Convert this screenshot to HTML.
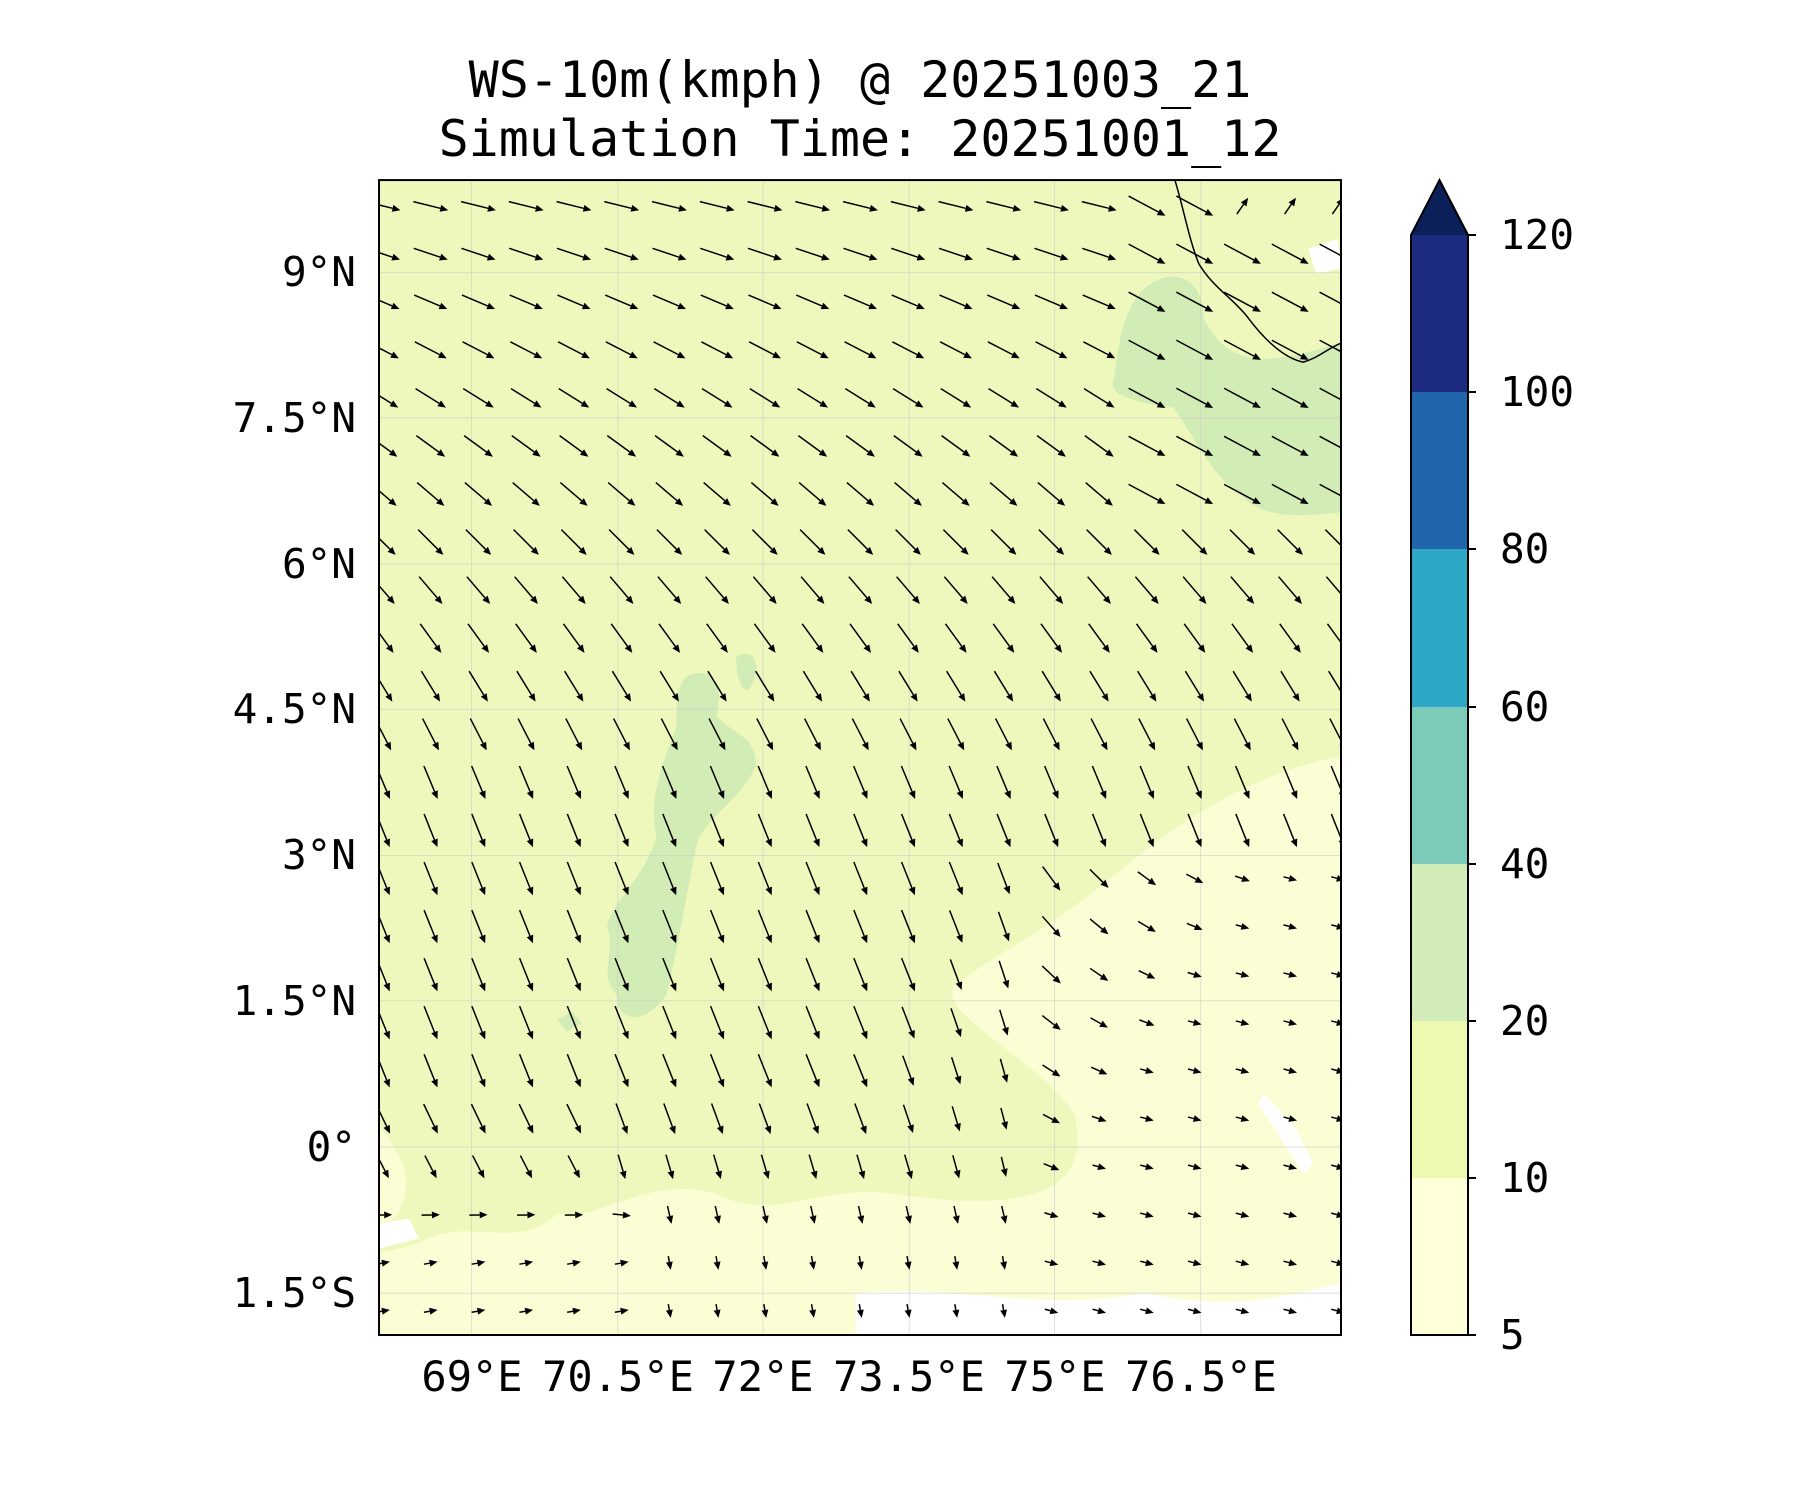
<!DOCTYPE html>
<html><head><meta charset="utf-8"><style>
html,body{margin:0;padding:0;background:#fff;}
body{width:1800px;height:1500px;position:relative;overflow:hidden;font-family:"DejaVu Sans Mono","Liberation Mono",monospace;}
svg text{font-family:"DejaVu Sans Mono","Liberation Mono",monospace;fill:#000;}
</style></head><body>
<svg id="s" width="1800" height="1500" viewBox="0 0 1800 1500" xmlns="http://www.w3.org/2000/svg">
<defs><clipPath id="c"><rect x="381" y="181" width="967" height="1161"/></clipPath></defs>
<text x="860" y="97" font-size="50" text-anchor="middle">WS-10m(kmph) @ 20251003_21</text>
<text x="860" y="156" font-size="50" text-anchor="middle">Simulation Time: 20251001_12</text>
<g transform="scale(0.9948)">
<g clip-path="url(#c)">
<rect x="381" y="181" width="967" height="1161" fill="#eff8bc"/>
<path d="M1348,760 C1250,780 1180,830 1120,880 C1060,930 1000,960 960,990 C940,1020 1040,1060 1080,1120 C1100,1200 1030,1220 900,1200 C820,1190 780,1230 720,1200 C650,1180 600,1230 560,1220 C520,1260 470,1220 420,1250 L381,1260 L381,1342 L1348,1342 Z" fill="#fbfdd5"/>
<path d="M381,1130 C400,1160 420,1180 400,1220 L381,1240Z" fill="#fbfdd5"/>
<path d="M1150,290 C1180,265 1210,280 1210,320 C1240,380 1290,360 1348,345 L1348,515 C1300,520 1270,520 1250,500 C1220,480 1200,440 1180,410 C1150,405 1110,400 1120,380 C1125,340 1130,310 1150,290Z" fill="#d2ecb6"/>
<path d="M690,680 C710,670 730,680 720,720 C740,740 760,740 760,770 C740,810 710,820 700,850 C690,900 680,960 670,1000 C650,1030 620,1030 620,1000 C600,980 620,960 610,930 C620,900 650,880 660,840 C650,800 670,760 680,730 C680,710 680,690 690,680Z" fill="#d2ecb6"/>
<path d="M740,660 C760,650 765,670 755,690 C750,700 740,690 740,660Z" fill="#d2ecb6"/>
<path d="M560,1025 l15,-8 l10,12 l-15,8 Z" fill="#d2ecb6"/>
<path d="M860,1300 C950,1290 1050,1320 1150,1300 C1250,1320 1300,1300 1348,1290 L1348,1342 L860,1342Z" fill="#ffffff"/>
<path d="M1270,1100 l30,30 l20,40 l-10,10 l-25,-40 l-20,-30Z" fill="#ffffff"/>
<path d="M1315,250 l30,-10 l3,30 l-25,5Z" fill="#ffffff"/>
<path d="M381,1230 l30,-5 l10,20 l-40,10Z" fill="#ffffff"/>
<g stroke="#cccccc" stroke-opacity="0.6" stroke-width="1">
<line x1="474" y1="181" x2="474" y2="1342"/><line x1="621" y1="181" x2="621" y2="1342"/><line x1="767" y1="181" x2="767" y2="1342"/><line x1="914" y1="181" x2="914" y2="1342"/><line x1="1060" y1="181" x2="1060" y2="1342"/><line x1="1207" y1="181" x2="1207" y2="1342"/>
<line x1="381" y1="274" x2="1348" y2="274"/><line x1="381" y1="420" x2="1348" y2="420"/><line x1="381" y1="567" x2="1348" y2="567"/><line x1="381" y1="713" x2="1348" y2="713"/><line x1="381" y1="860" x2="1348" y2="860"/><line x1="381" y1="1006" x2="1348" y2="1006"/><line x1="381" y1="1153" x2="1348" y2="1153"/><line x1="381" y1="1300" x2="1348" y2="1300"/>
</g>
<path d="M1181,181 C1190,210 1195,240 1205,265 C1220,290 1240,300 1255,320 C1270,340 1290,360 1310,364 C1325,360 1335,350 1348,345" fill="none" stroke="#000" stroke-width="1.5"/>
<g id="arr" fill="#000" stroke="#000"></g>
</g>
<rect x="381" y="181" width="967" height="1161" fill="none" stroke="#000" stroke-width="2"/>
</g>
<g font-size="41" text-anchor="end">
<text x="356" y="286">9°N</text><text x="356" y="432">7.5°N</text><text x="356" y="578">6°N</text><text x="356" y="723">4.5°N</text><text x="356" y="869">3°N</text><text x="356" y="1015">1.5°N</text><text x="356" y="1161">0°</text><text x="356" y="1307">1.5°S</text>
</g>
<g font-size="42" text-anchor="middle">
<text x="472" y="1391">69°E</text><text x="618" y="1391">70.5°E</text><text x="763" y="1391">72°E</text><text x="909" y="1391">73.5°E</text><text x="1055" y="1391">75°E</text><text x="1201" y="1391">76.5°E</text>
</g>
<rect x="1411" y="1178" width="57" height="157" fill="#ffffd9"/>
<rect x="1411" y="1021" width="57" height="157" fill="#edf8b1"/>
<rect x="1411" y="864" width="57" height="157" fill="#d1ecb6"/>
<rect x="1411" y="707" width="57" height="157" fill="#7ccbb9"/>
<rect x="1411" y="549" width="57" height="158" fill="#2ea6c6"/>
<rect x="1411" y="392" width="57" height="157" fill="#2166ac"/>
<rect x="1411" y="235" width="57" height="157" fill="#1c2b7f"/>
<path d="M1411,235 L1439.5,180 L1468,235 Z" fill="#0b1f58"/>
<path d="M1411,1335 L1411,235 L1439.5,180 L1468,235 L1468,1335 Z" fill="none" stroke="#000" stroke-width="2"/>
<g stroke="#000" stroke-width="2">
<line x1="1468" y1="235" x2="1476" y2="235"/><line x1="1468" y1="392" x2="1476" y2="392"/><line x1="1468" y1="549" x2="1476" y2="549"/><line x1="1468" y1="707" x2="1476" y2="707"/><line x1="1468" y1="864" x2="1476" y2="864"/><line x1="1468" y1="1021" x2="1476" y2="1021"/><line x1="1468" y1="1178" x2="1476" y2="1178"/><line x1="1468" y1="1335" x2="1476" y2="1335"/>
</g>
<g font-size="41">
<text x="1500" y="249">120</text><text x="1500" y="406">100</text><text x="1500" y="563">80</text><text x="1500" y="721">60</text><text x="1500" y="878">40</text><text x="1500" y="1035">20</text><text x="1500" y="1192">10</text><text x="1500" y="1349">5</text>
</g>
</svg>
<script>
var g=document.getElementById('arr'),h='';
for(var r=0;r<24;r++){for(var c=0;c<21;c++){
var x=385+c*48, y=207+r*48.3;
var lon=68.05+(x-381)/97.7, lat=9.95-(y-181)/97.7;
var ang=12+(9.9-lat)*9; if(ang>68)ang=68;
var len=36;
var weak=0;
if(lat<3){weak=Math.min(1,Math.max(0,(lon-74)/3+(2.5-lat)/5));}
if(lat<0.5){weak=Math.max(weak,Math.min(1,(0.5-lat)/1.5));}
if(lat<0.5 && lon<70.5){ang=68-(0.5-lat)*30;}
if(weak>0){var ta= lon>74.5?15:80; if(lat<-0.5&&lon<71)ta=-10; ang=ang*(1-weak)+ta*weak; len=36-22*weak;}
if(lat>6.5&&lon>75.5){ang=28;len=42;}
if(lat>9.5&&lon>76.5){ang=-55;len=20;}
var a=ang*Math.PI/180, dx=Math.cos(a)*len, dy=Math.sin(a)*len;
var x1=x-dx/2,y1=y-dy/2,x2=x+dx/2,y2=y+dy/2;
var hl=8,hw=3.5,ux=Math.cos(a),uy=Math.sin(a);
var bx=x2-ux*hl,by=y2-uy*hl;
h+='<line x1="'+x1.toFixed(1)+'" y1="'+y1.toFixed(1)+'" x2="'+bx.toFixed(1)+'" y2="'+by.toFixed(1)+'" stroke-width="1.5"/>';
h+='<polygon stroke="none" points="'+x2.toFixed(1)+','+y2.toFixed(1)+' '+(bx-uy*hw).toFixed(1)+','+(by+ux*hw).toFixed(1)+' '+(bx+uy*hw).toFixed(1)+','+(by-ux*hw).toFixed(1)+'"/>';
}}
g.innerHTML=h;
</script>
</body></html>
